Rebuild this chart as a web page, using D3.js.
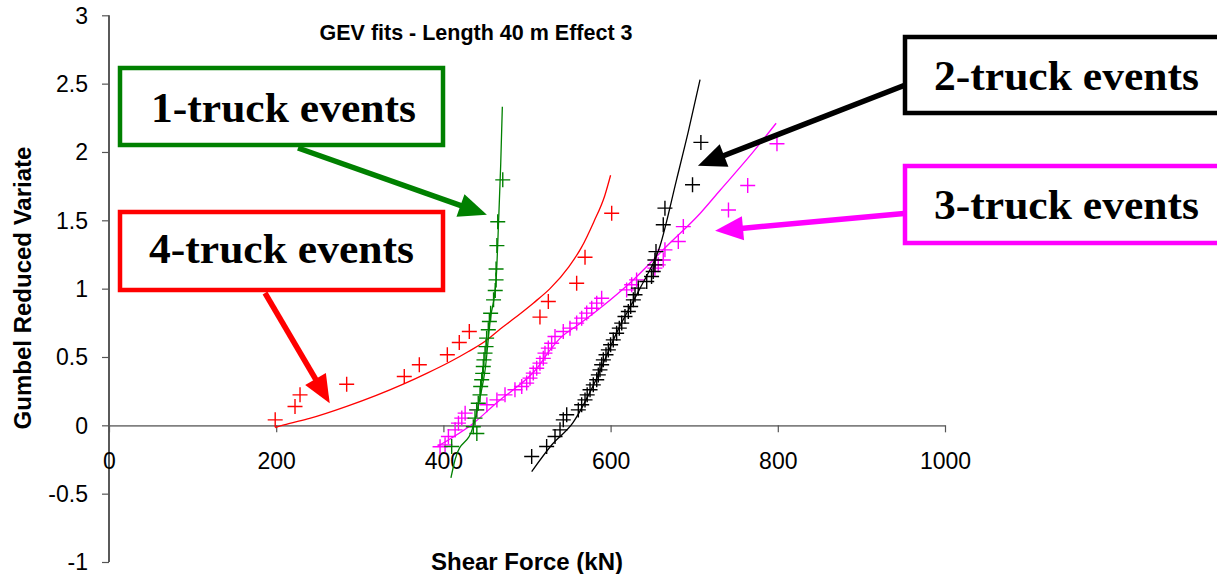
<!DOCTYPE html>
<html>
<head>
<meta charset="utf-8">
<script src="https://cdn.jsdelivr.net/npm/d3@7"></script>
<style>
  body { margin: 0; background: #fff; }
  svg { display: block; }
  .tick text { font-family: "Liberation Sans", Arial, sans-serif; font-size: 23px; fill: #000; }
  .axis-title { font-family: "Liberation Sans", Arial, sans-serif; font-weight: bold; font-size: 24px; }
  .callout { font-family: "Liberation Serif", "Times New Roman", serif; font-weight: bold; font-size: 42px; }
</style>
</head>
<body>
<svg id="chart" width="1217" height="574"></svg>
<script>
  // tick values
  var xTicks = [0, 200, 400, 600, 800, 1000];
  var yTicks = [-1, -0.5, 0, 0.5, 1, 1.5, 2, 2.5, 3];

  // 1-truck events (green)
  var truck1Points = [[409.9,-0.155],[440,-0.06],[435.8,-0.01],[437.8,0.053],[439.8,0.113],[441.7,0.162],
    [443.8,0.223],[444.6,0.284],[445.8,0.333],[447,0.38],[447.7,0.43],[448.5,0.479],[449.8,0.528],
    [451,0.576],[451.7,0.638],[453.7,0.699],[455,0.76],[456.5,0.82],[460,0.918],[462,0.986],
    [463,1.064],[463,1.144],[464,1.315],[465,1.49],[471,1.796]];
  var truck1Fit = [[409,-0.385],[414,-0.25],[436,0],[444,0.21],[450,0.41],[456,0.77],[463,1.06],
    [466,1.49],[468.5,1.9],[470.5,2.33]];

  // 2-truck events (black)
  var truck2Points = [[505.6,-0.228],[523.5,-0.155],[533.5,-0.082],[539.5,-0.033],[543.4,0.04],[547.5,0.077],
    [561.4,0.113],[565.4,0.15],[569.4,0.186],[572,0.223],[575.4,0.26],[579.3,0.296],[583.4,0.333],
    [585.3,0.369],[587.3,0.406],[589.3,0.443],[591.3,0.479],[594.5,0.516],[597.3,0.552],[600,0.589],
    [603.2,0.625],[607.2,0.674],[610.4,0.711],[613.3,0.748],[617.2,0.796],[621.2,0.833],[624,0.869],
    [627.2,0.918],[629.2,0.955],[633.1,1.004],[643.2,1.052],[649,1.089],[651,1.125],[653,1.174],
    [653,1.21],[654.3,1.271],[663,1.467],[665,1.589],[698,1.76],[708,2.07]];
  var truck2Fit = [[505.6,-0.338],[530,-0.14],[555,0.02],[580,0.3],[609,0.7],[635,1.0],[659,1.31],
    [679,1.8],[693,2.15],[707,2.53]];

  // 3-truck events (magenta)
  var truck3Points = [[396,-0.157],[402,-0.143],[406,-0.082],[414,-0.033],[418,0.016],[422,0.053],[426,0.089],
    [440,0.113],[452,0.15],[464,0.186],[473.7,0.223],[485.6,0.26],[493.7,0.284],[499.6,0.309],
    [503.6,0.345],[507.5,0.382],[511.6,0.418],[515.5,0.455],[519.5,0.49],[521.5,0.528],[525.5,0.565],
    [529.5,0.6],[533.5,0.65],[543.4,0.686],[551.4,0.711],[559.4,0.748],[565.4,0.784],[571.4,0.821],
    [577.4,0.857],[583.4,0.894],[589.3,0.93],[619.2,0.991],[625.2,1.028],[631.1,1.064],[653,1.15],
    [657,1.174],[663,1.21],[665,1.284],[681,1.345],[687,1.454],[741,1.576],[764,1.755],[799,2.06]];
  var truck3Fit = [[392,-0.157],[436,0.016],[467.7,0.186],[483.6,0.26],[511,0.41],[527.5,0.55],
    [540,0.64],[560,0.73],[587.3,0.857],[627,1.064],[667,1.31],[707,1.55],[731,1.72],[765,1.96],[798,2.21]];

  // 4-truck events (red)
  var truck4Points = [[198.8,0.04],[222.5,0.138],[228.5,0.223],[284.3,0.301],[353.2,0.357],[371.2,0.443],
    [404.7,0.516],[419,0.606],[431,0.686],[515.5,0.792],[525.5,0.906],[559.4,1.04],[569.4,1.23],[601.3,1.552]];
  var truck4Fit = [[198.8,-0.016],[215,0.012],[240,0.05],[284.3,0.138],[352,0.301],[380,0.38],[408,0.465],
    [430,0.54],[452,0.625],[468,0.705],[482,0.77],[507.5,0.894],[527.5,1.0],[550,1.16],[565,1.3],
    [580,1.49],[593,1.68],[600,1.83]];

  // callouts: label text and where the arrow points (data units)
  var calloutLabels = ["1-truck events", "2-truck events", "3-truck events", "4-truck events"];
  var calloutTips = [[452, 1.54], [704.5, 1.9], [725, 1.423], [264, 0.162]];

  var svg = d3.select('#chart');

  var xScale = d3.scaleLinear().domain([0, 1000]).range([109, 945]);
  var yScale = d3.scaleLinear().domain([-1, 3]).range([562, 15.3]);

  var lineGenerator = d3.line()
      .curve(d3.curveMonotoneX)
      .x(function(d) { return xScale(d[0]); })
      .y(function(d) { return yScale(d[1]); });

  // y axis
  var yAxis = svg.append('g')
      .attr('transform', 'translate(109,0)')
      .call(d3.axisLeft(yScale).tickValues(yTicks).tickSize(7).tickPadding(14)
        .tickFormat(function(d) { return String(d); }));
  yAxis.select('.domain').attr('stroke', '#000').attr('stroke-width', 1.3).attr('d', 'M0,15.3V562');
  yAxis.selectAll('.tick line').attr('stroke', '#555').attr('stroke-width', 1.2);
  yAxis.selectAll('.tick text').attr('dy', '0.34em');

  // x axis along zero
  var xAxis = svg.append('g')
      .attr('transform', 'translate(0,' + yScale(0) + ')')
      .call(d3.axisBottom(xScale).tickValues(xTicks).tickSize(7).tickPadding(20).tickSizeOuter(0)
        .tickFormat(function(d) { return String(d); }));
  xAxis.select('.domain').attr('stroke', '#808080').attr('stroke-width', 1.8);
  xAxis.selectAll('.tick line').attr('stroke', '#555').attr('stroke-width', 1.2);

  // titles
  svg.append('text')
      .attr('class', 'axis-title')
      .attr('x', 476).attr('y', 40)
      .attr('text-anchor', 'middle')
      .style('font-size', '21.5px')
      .text('GEV fits - Length 40 m Effect 3');

  svg.append('text')
      .attr('class', 'axis-title')
      .attr('transform', 'translate(31,288) rotate(-90)')
      .attr('text-anchor', 'middle')
      .text('Gumbel Reduced Variate');

  svg.append('text')
      .attr('class', 'axis-title')
      .attr('x', 527).attr('y', 570)
      .attr('text-anchor', 'middle')
      .text('Shear Force (kN)');

  // series
  var series = [
    {pts: truck1Points, fit: truck1Fit, color: '#008000'},
    {pts: truck2Points, fit: truck2Fit, color: '#000000'},
    {pts: truck3Points, fit: truck3Fit, color: '#FF00FF'},
    {pts: truck4Points, fit: truck4Fit, color: '#FF0000'}
  ];

  var plus = 7.5;
  series.slice().reverse().forEach(function(s) {
    var g = svg.append('g');
    g.append('path')
        .attr('d', lineGenerator(s.fit))
        .attr('fill', 'none')
        .attr('stroke', s.color)
        .attr('stroke-width', 1.3);
    g.selectAll('.pt')
        .data(s.pts)
      .enter().append('path')
        .attr('class', 'pt')
        .attr('d', function(d) {
          var cx = xScale(d[0]), cy = yScale(d[1]);
          return 'M' + (cx - plus) + ',' + cy + 'H' + (cx + plus) +
                 'M' + cx + ',' + (cy - plus) + 'V' + (cy + plus);
        })
        .attr('stroke', s.color)
        .attr('stroke-width', 1.4)
        .attr('fill', 'none');
  });

  // callout boxes and arrows
  var boxes = [
    {x: 120, y: 68, w: 323, h: 77, tx: 283.5, ty: 122, from: [298, 148], color: '#008000'},
    {x: 905, y: 37, w: 330, h: 76, tx: 1066.5, ty: 90, from: [904, 85.5], color: '#000000'},
    {x: 905, y: 166, w: 330, h: 77, tx: 1066.5, ty: 218.5, from: [904, 213.5], color: '#FF00FF'},
    {x: 120, y: 212, w: 323, h: 78, tx: 281.5, ty: 263, from: [265, 293], color: '#FF0000'}
  ];

  function arrow(g, x1, y1, x2, y2, color) {
    var dx = x2 - x1, dy = y2 - y1, len = Math.sqrt(dx * dx + dy * dy);
    var ux = dx / len, uy = dy / len;
    var headLen = 28, headHalf = 12;
    var bx = x2 - ux * headLen, by = y2 - uy * headLen;
    g.append('line')
        .attr('x1', x1).attr('y1', y1)
        .attr('x2', bx + ux * 2).attr('y2', by + uy * 2)
        .attr('stroke', color)
        .attr('stroke-width', 5.5);
    g.append('polygon')
        .attr('points', [
          [x2, y2],
          [bx - uy * headHalf, by + ux * headHalf],
          [bx + uy * headHalf, by - ux * headHalf]
        ].map(function(p) { return p.join(','); }).join(' '))
        .attr('fill', color);
  }

  var callouts = svg.append('g');
  boxes.forEach(function(b, i) {
    callouts.append('rect')
        .attr('x', b.x).attr('y', b.y)
        .attr('width', b.w).attr('height', b.h)
        .attr('fill', '#fff')
        .attr('stroke', b.color)
        .attr('stroke-width', 4.5);
    callouts.append('text')
        .attr('class', 'callout')
        .attr('x', b.tx).attr('y', b.ty)
        .attr('text-anchor', 'middle')
        .attr('textLength', 265)
        .attr('lengthAdjust', 'spacingAndGlyphs')
        .text(calloutLabels[i]);
    var tip = calloutTips[i];
    arrow(callouts, b.from[0], b.from[1], xScale(tip[0]), yScale(tip[1]), b.color);
  });
</script>
</body>
</html>
